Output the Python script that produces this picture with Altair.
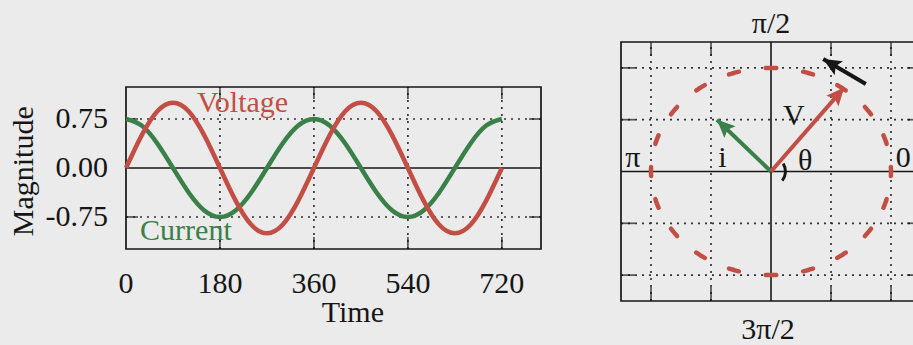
import math
import altair as alt
import pandas as pd

# ---------------- data ----------------
T_DEG = [0, 30, 60, 90, 120, 150, 180, 210, 240, 270, 300, 330, 360,
         390, 420, 450, 480, 510, 540, 570, 600, 630, 660, 690, 720]
VOLTAGE = [0, 0.5, 0.87, 1.0, 0.87, 0.5, 0, -0.5, -0.87, -1.0, -0.87, -0.5, 0,
           0.5, 0.87, 1.0, 0.87, 0.5, 0, -0.5, -0.87, -1.0, -0.87, -0.5, 0]
CURRENT = [0.75, 0.65, 0.375, 0, -0.375, -0.65, -0.75, -0.65, -0.375, 0, 0.375, 0.65, 0.75,
           0.65, 0.375, 0, -0.375, -0.65, -0.75, -0.65, -0.375, 0, 0.375, 0.65, 0.75]
X_TICKS = [180, 360, 540, 720]
X_LABEL_VALUES = [0, 180, 360, 540, 720]
X_LABELS = ["0", "180", "360", "540", "720"]
Y_TICKS = [0.75, 0.0, -0.75]
Y_LABELS = ["0.75", "0.00", "-0.75"]

P_GRID = [-2, -1, 1, 2]
CIRCLE_RADIUS = 2
VEC_NAMES = ["i", "V", "rotation"]
VEC_X0 = [0, 0, 1.58]
VEC_Y0 = [0, 0, 1.69]
VEC_X1 = [-0.9, 1.22, 0.87]
VEC_Y1 = [1.0, 1.62, 2.17]

# ---------------- styles ----------------
RED = "#c24e45"
GREEN = "#3a8049"
INK = "#161616"
GRIDC = "#333333"
BG = "#ebebeb"
FONT = "Liberation Serif"
FS = 30

# left panel scales
LXD, LXR = [0, 795], [126, 541]
LYD, LYR = [-1.24, 1.24], [249, 87]
# right panel scales
RXD, RXR = [-2.5, 2.5], [621, 921]
RYD, RYR = [-2.5, 2.5], [301, 42]

def sc(d, r):
    return alt.Scale(domain=d, range=r, nice=False, zero=False)

def LX(f):
    return alt.X(f, type="quantitative", scale=sc(LXD, LXR), axis=None)

def LY(f):
    return alt.Y(f, type="quantitative", scale=sc(LYD, LYR), axis=None)

def LXd(v):
    return alt.XDatum(v, type="quantitative", scale=sc(LXD, LXR), axis=None)

def LYd(v):
    return alt.YDatum(v, type="quantitative", scale=sc(LYD, LYR), axis=None)

def RX(f):
    return alt.X(f, type="quantitative", scale=sc(RXD, RXR), axis=None)

def RY(f):
    return alt.Y(f, type="quantitative", scale=sc(RYD, RYR), axis=None)

def RXd(v):
    return alt.XDatum(v, type="quantitative", scale=sc(RXD, RXR), axis=None)

def RYd(v):
    return alt.YDatum(v, type="quantitative", scale=sc(RYD, RYR), axis=None)

one = pd.DataFrame({"k": [0]})
waves = pd.DataFrame({"t": T_DEG, "v": VOLTAGE, "c": CURRENT})
xt = pd.DataFrame({"t": X_TICKS})
xl = pd.DataFrame({"t": X_LABEL_VALUES, "lab": X_LABELS})
yl = pd.DataFrame({"y": Y_TICKS, "lab": Y_LABELS})
ygrid = pd.DataFrame({"y": [v for v in Y_TICKS if v != 0]})
pg = pd.DataFrame({"p": P_GRID})

layers = []

# ---------- left panel ----------
dot = dict(strokeDash=[2, 5], strokeWidth=1.7, color=GRIDC)
layers.append(alt.Chart(xt).mark_rule(**dot).encode(x=LX("t"), y=LYd(LYD[0]), y2=alt.Y2Datum(LYD[1])))
layers.append(alt.Chart(ygrid).mark_rule(**dot).encode(y=LY("y"), x=LXd(LXD[0]), x2=alt.X2Datum(LXD[1])))
layers.append(alt.Chart(one).mark_rule(color=INK, strokeWidth=1.6).encode(
    y=LYd(0), x=LXd(LXD[0]), x2=alt.X2Datum(LXD[1])))
# ticks
layers.append(alt.Chart(xt).mark_tick(orient="vertical", size=12, thickness=1.7, color=INK, yOffset=6)
              .encode(x=LX("t"), y=LYd(LYD[1])))
layers.append(alt.Chart(xt).mark_tick(orient="vertical", size=12, thickness=1.7, color=INK, yOffset=-6)
              .encode(x=LX("t"), y=LYd(LYD[0])))
layers.append(alt.Chart(ygrid).mark_tick(orient="horizontal", size=12, thickness=1.7, color=INK, xOffset=6)
              .encode(y=LY("y"), x=LXd(LXD[0])))
layers.append(alt.Chart(ygrid).mark_tick(orient="horizontal", size=12, thickness=1.7, color=INK, xOffset=-6)
              .encode(y=LY("y"), x=LXd(LXD[1])))
# frame
layers.append(alt.Chart(one).mark_rect(fill=None, stroke=INK, strokeWidth=1.7).encode(
    x=LXd(LXD[0]), x2=alt.X2Datum(LXD[1]), y=LYd(LYD[0]), y2=alt.Y2Datum(LYD[1])))
# waves
layers.append(alt.Chart(waves).mark_line(color=GREEN, strokeWidth=4.5, interpolate="natural")
              .encode(x=LX("t"), y=LY("c")))
layers.append(alt.Chart(waves).mark_line(color=RED, strokeWidth=4.5, interpolate="natural")
              .encode(x=LX("t"), y=LY("v")))
# labels
txt = dict(font=FONT, fontSize=FS, color=INK)
layers.append(alt.Chart(xl).mark_text(**txt, align="center", baseline="alphabetic", dy=44)
              .encode(x=LX("t"), y=LYd(LYD[0]), text="lab:N"))
layers.append(alt.Chart(yl).mark_text(**txt, align="right", baseline="middle", dx=-18)
              .encode(y=LY("y"), x=LXd(LXD[0]), text="lab:N"))
layers.append(alt.Chart(one).mark_text(**txt, align="left", baseline="alphabetic", dy=73, text="Time")
              .encode(x=LXd(375), y=LYd(LYD[0])))
layers.append(alt.Chart(one).mark_text(**txt, align="center", baseline="alphabetic", angle=270, text="Magnitude")
              .encode(x=LXd(-178), y=LYd(-0.05)))
layers.append(alt.Chart(one).mark_text(font=FONT, fontSize=FS, color=RED, align="left",
                                       baseline="alphabetic", text="Voltage")
              .encode(x=LXd(136), y=LYd(0.857)))
layers.append(alt.Chart(one).mark_text(font=FONT, fontSize=FS, color=GREEN, align="left",
                                       baseline="alphabetic", text="Current")
              .encode(x=LXd(27), y=LYd(-1.10)))

# ---------- right panel ----------
layers.append(alt.Chart(pg).mark_rule(**dot).encode(x=RX("p"), y=RYd(RYD[0]), y2=alt.Y2Datum(RYD[1])))
layers.append(alt.Chart(pg).mark_rule(**dot).encode(y=RY("p"), x=RXd(RXD[0]), x2=alt.X2Datum(RXD[1])))
layers.append(alt.Chart(one).mark_rule(color=INK, strokeWidth=1.6).encode(
    x=RXd(0), y=RYd(RYD[0]), y2=alt.Y2Datum(RYD[1])))
layers.append(alt.Chart(one).mark_rule(color=INK, strokeWidth=1.6).encode(
    y=RYd(0), x=RXd(RXD[0]), x2=alt.X2Datum(RXD[1])))
layers.append(alt.Chart(pg).mark_tick(orient="vertical", size=14, thickness=1.7, color=INK, yOffset=7)
              .encode(x=RX("p"), y=RYd(RYD[1])))
layers.append(alt.Chart(pg).mark_tick(orient="vertical", size=14, thickness=1.7, color=INK, yOffset=-7)
              .encode(x=RX("p"), y=RYd(RYD[0])))
layers.append(alt.Chart(pg).mark_tick(orient="horizontal", size=14, thickness=1.7, color=INK, xOffset=7)
              .encode(y=RY("p"), x=RXd(RXD[0])))
layers.append(alt.Chart(pg).mark_tick(orient="horizontal", size=14, thickness=1.7, color=INK, xOffset=-7)
              .encode(y=RY("p"), x=RXd(RXD[1])))
layers.append(alt.Chart(one).mark_rect(fill=None, stroke=INK, strokeWidth=1.7).encode(
    x=RXd(RXD[0]), x2=alt.X2Datum(RXD[1]), y=RYd(RYD[0]), y2=alt.Y2Datum(RYD[1])))

# dashed circle: each dash drawn as its own short arc segment
circle = (alt.Chart(alt.sequence(0, 360.5, 0.5, as_="a"))
          .transform_calculate(ph="(datum.a + 2.5) % 18",
                               k="floor((datum.a + 2.5) / 18)",
                               cx=f"{CIRCLE_RADIUS} * cos(datum.a * PI / 180)",
                               cy=f"{CIRCLE_RADIUS} * sin(datum.a * PI / 180)")
          .transform_filter("datum.ph <= 5")
          .mark_line(color=RED, strokeWidth=4.5, strokeCap="round")
          .encode(x=RX("cx"), y=RY("cy"), detail="k:N", order="a:Q"))
layers.append(circle)

# vectors
sx = (RXR[1] - RXR[0]) / (RXD[1] - RXD[0])
sy = (RYR[0] - RYR[1]) / (RYD[1] - RYD[0])
vec = pd.DataFrame({"name": VEC_NAMES, "x0": VEC_X0, "y0": VEC_Y0, "x1": VEC_X1, "y1": VEC_Y1})
vec["ang"] = [(math.degrees(math.atan2((b - a) * sx, (d - c) * sy)) + 360) % 360
              for a, b, c, d in zip(VEC_X0, VEC_X1, VEC_Y0, VEC_Y1)]
vcol = alt.Color("name:N", scale=alt.Scale(domain=VEC_NAMES, range=[GREEN, RED, INK]), legend=None)
layers.append(alt.Chart(vec).mark_rule(strokeWidth=4).encode(
    x=RX("x0"), y=RY("y0"), x2="x1:Q", y2="y1:Q", color=vcol))
layers.append(alt.Chart(vec).mark_point(shape="M0,0L-0.45,1L0,0.8L0.45,1Z", filled=True, opacity=1, size=1300)
              .encode(x=RX("x1"), y=RY("y1"), color=vcol, angle=alt.Angle("ang:Q", scale=None)))

# theta marker arc
layers.append(alt.Chart(one).mark_arc(radius=16, radius2=13, theta=1.0, theta2=2.25, color=INK)
              .encode(x=RXd(0), y=RYd(0)))

# right labels
layers.append(alt.Chart(one).mark_text(**txt, align="center", baseline="alphabetic", dy=-9, text="π/2")
              .encode(x=RXd(0), y=RYd(RYD[1])))
layers.append(alt.Chart(one).mark_text(**txt, align="center", baseline="alphabetic", dy=38, text="3π/2")
              .encode(x=RXd(-0.05), y=RYd(RYD[0])))
for s, xv, yv in [("π", -2.43, 0.087), ("i", -0.88, 0.087), ("0", 2.08, 0.087),
                  ("θ", 0.45, 0.03), ("V", 0.2, 0.89)]:
    layers.append(alt.Chart(one).mark_text(**txt, align="left", baseline="alphabetic", text=s)
                  .encode(x=RXd(xv), y=RYd(yv)))

chart = (alt.layer(*layers)
         .resolve_scale(x="independent", y="independent", color="independent")
         .properties(width=913, height=345, padding=0,
                     autosize=alt.AutoSizeParams(type="none"), background=BG)
         .configure_view(stroke=None))

chart.save("out.html", embed_options={"renderer": "svg", "actions": False})
